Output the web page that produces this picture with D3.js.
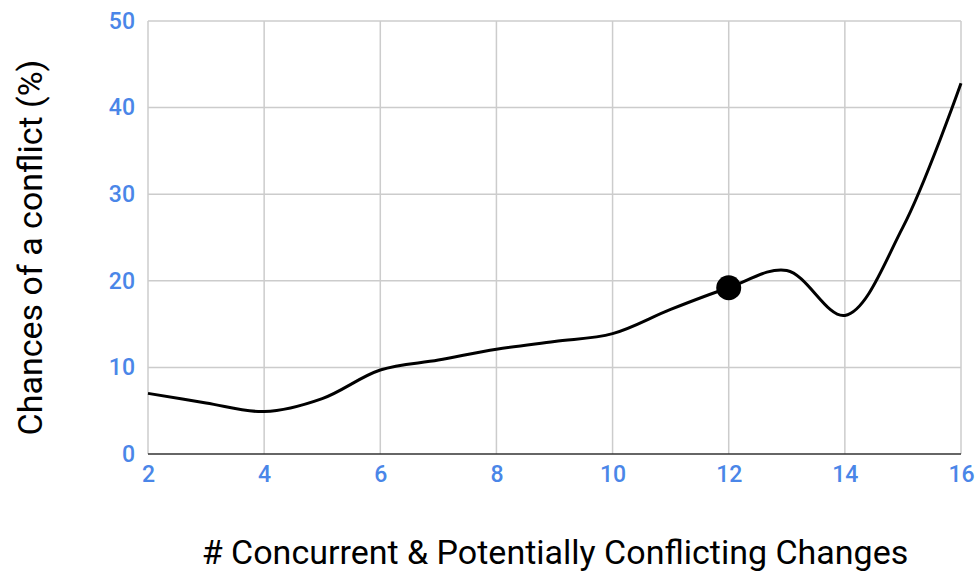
<!DOCTYPE html>
<html><head><meta charset="utf-8">
<script src="https://cdn.jsdelivr.net/npm/d3@7"></script>
<style>body{margin:0;background:#fff}</style>
</head><body>
<svg id="c" width="977" height="572"></svg>
<script>
const xValues = [2,3,4,5,6,7,8,9,10,11,12,13,14,15,16];
const yValues = [7.0,5.9,4.9,6.4,9.7,10.85,12.1,13.0,13.9,16.7,19.2,21.2,16.0,26.2,42.8];
const xTicks = [2,4,6,8,10,12,14,16];
const yTicks = [0,10,20,30,40,50];
const highlightX = 12;
const xTitle = "# Concurrent & Potentially Conflicting Changes";
const yTitle = "Chances of a conflict (%)";

const svg = d3.select("#c");
const L=148, R=961, T=21, B=454;
const x = d3.scaleLinear().domain([2,16]).range([L,R]);
const y = d3.scaleLinear().domain([0,50]).range([B,T]);
const font = "Roboto, 'Noto Sans', sans-serif";
const blue = "#4a86e8";

// grid
svg.append("g").selectAll("line").data(xTicks).join("line")
  .attr("x1",d=>x(d)).attr("x2",d=>x(d)).attr("y1",T).attr("y2",B)
  .attr("stroke","#cccccc").attr("stroke-width",1.5);
svg.append("g").selectAll("line").data(yTicks).join("line")
  .attr("x1",L).attr("x2",R).attr("y1",d=>y(d)).attr("y2",d=>y(d))
  .attr("stroke",d=>d===0?"#333":"#cccccc").attr("stroke-width",1.5);

// axes labels
const yAxis = d3.axisLeft(y).tickValues(yTicks).tickSize(0).tickPadding(13);
const gy = svg.append("g").attr("transform",`translate(${L},0)`).call(yAxis);
gy.select(".domain").remove();
gy.selectAll("text").attr("fill",blue).attr("font-family",font).attr("font-size",23).attr("font-weight",500);
const xAxis = d3.axisBottom(x).tickValues(xTicks).tickSize(0).tickPadding(12);
const gx = svg.append("g").attr("transform",`translate(0,${B})`).call(xAxis);
gx.select(".domain").remove();
gx.selectAll("text").attr("fill",blue).attr("font-family",font).attr("font-size",23).attr("font-weight",500);

// line
const data = xValues.map((v,i)=>({x:v,y:yValues[i]}));
const line = d3.line().x(d=>x(d.x)).y(d=>y(d.y)).curve(d3.curveCatmullRom.alpha(0.5));
svg.append("path").datum(data).attr("d",line).attr("fill","none")
  .attr("stroke","#000").attr("stroke-width",3);

const hp = data.find(d=>d.x===highlightX);
svg.append("circle").attr("cx",x(hp.x)).attr("cy",y(hp.y)).attr("r",12.5).attr("fill","#000");

// titles
svg.append("text").attr("x",555).attr("y",564).attr("text-anchor","middle")
  .attr("font-family",font).attr("font-size",34).attr("fill","#000").text(xTitle);
svg.append("text").attr("transform",`translate(42,${(T+B)/2+10}) rotate(-90)`).attr("text-anchor","middle")
  .attr("font-family",font).attr("font-size",34).attr("fill","#000").text(yTitle);
</script>
</body></html>
